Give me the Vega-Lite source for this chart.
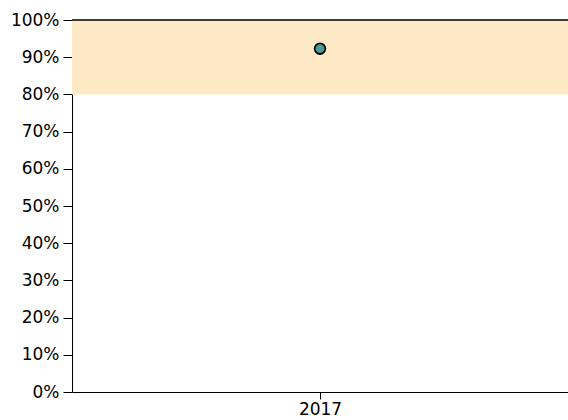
{
  "$schema": "https://vega.github.io/schema/vega-lite/v6.json",
  "width": 496,
  "height": 372,
  "autosize": {"type": "none"},
  "padding": {"left": 72, "top": 20, "right": 0, "bottom": 28},
  "background": "white",
  "config": {
    "view": {"stroke": null},
    "axis": {"labelFont": "DejaVu Sans", "labelFontSize": 17, "labelColor": "black", "domainColor": "black", "tickColor": "black", "grid": false, "title": null, "labelOverlap": false}
  },
  "datasets": {
    "points": [{"year": "2017", "value": 0.923}],
    "band": [{"lo": 0.8, "hi": 1.0}],
    "top": [{"v": 1.0}]
  },
  "layer": [
    {
      "data": {"name": "band"},
      "mark": {"type": "rect", "color": "#fee9c6"},
      "encoding": {
        "y": {
          "field": "lo", "type": "quantitative", "scale": {"domain": [0, 1]},
          "axis": {"format": ".0%", "values": [0,0.1,0.2,0.3,0.4,0.5,0.6,0.7,0.8,0.9,1], "tickSize": 9, "labelPadding": 4}
        },
        "y2": {"field": "hi"}
      }
    },
    {
      "data": {"name": "top"},
      "mark": {"type": "rule", "color": "black", "strokeWidth": 1.5},
      "encoding": {
        "y": {
          "field": "v", "type": "quantitative",
          "axis": {"format": ".0%", "values": [0,0.1,0.2,0.3,0.4,0.5,0.6,0.7,0.8,0.9,1], "tickSize": 9, "labelPadding": 4}
        }
      }
    },
    {
      "data": {"name": "points"},
      "mark": {"type": "point", "filled": true, "fill": "#4f9a97", "stroke": "black", "strokeWidth": 1.8, "opacity": 1, "size": 115},
      "encoding": {
        "x": {
          "field": "year", "type": "ordinal",
          "scale": {"type": "point", "padding": 0.5},
          "axis": {"labelAngle": 0, "tickSize": 7, "labelPadding": 2}
        },
        "y": {
          "field": "value", "type": "quantitative",
          "scale": {"domain": [0, 1]},
          "axis": {"format": ".0%", "values": [0,0.1,0.2,0.3,0.4,0.5,0.6,0.7,0.8,0.9,1], "tickSize": 9, "labelPadding": 4}
        }
      }
    }
  ]
}
